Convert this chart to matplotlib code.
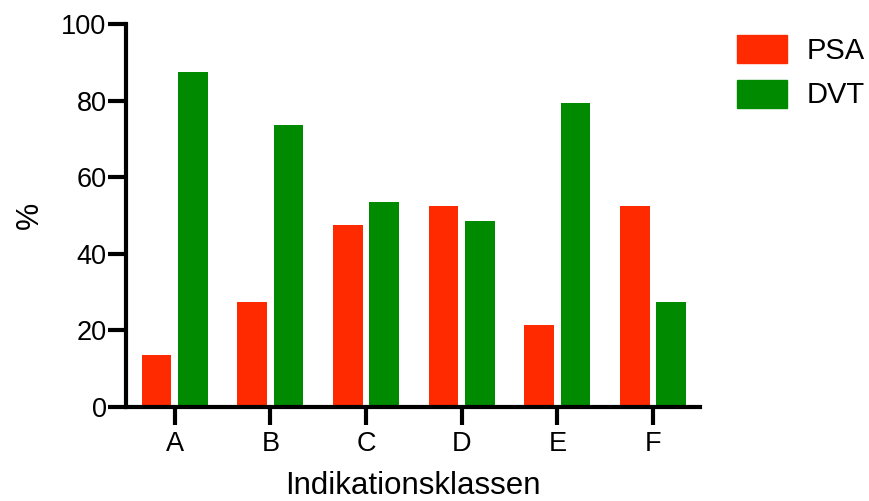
import numpy as np
import matplotlib.pyplot as plt
from matplotlib.patches import Patch

plt.rcParams['font.family'] = ['Liberation Sans', 'DejaVu Sans']

categories = ['A', 'B', 'C', 'D', 'E', 'F']
psa = [13.5, 27.5, 47.5, 52.5, 21.5, 52.5]
dvt = [87.5, 73.5, 53.5, 48.5, 79.5, 27.5]

red = '#ff2a00'
green = '#008a00'

fig = plt.figure(figsize=(8.7, 5.01), dpi=100)
ax = fig.add_axes([126/870, 1-407/501, (700-126)/870, (407-24)/501])

x = np.arange(len(categories))
w = 0.31
ax.bar(x - 0.19, psa, w, color=red, label='PSA')
ax.bar(x + 0.19, dvt, w, color=green, label='DVT')

ax.set_xlim(-0.51, 5.49)
ax.set_ylim(0, 100)
ax.set_yticks([0, 20, 40, 60, 80, 100])
ax.set_xticks(x)
ax.set_xticklabels(categories)
ax.tick_params(labelsize=19.5, width=3, length=13, direction='out')
ax.tick_params(axis='y', pad=1)
ax.tick_params(axis='x', pad=4)
for s in ['top', 'right']:
    ax.spines[s].set_visible(False)
for s in ['left', 'bottom']:
    ax.spines[s].set_linewidth(3)
ax.set_xlabel('Indikationsklassen', fontsize=22.5, labelpad=10)
ax.set_ylabel('%', fontsize=22, labelpad=12)

handles = [Patch(color=red, label='PSA'), Patch(color=green, label='DVT')]
fig.legend(handles=handles, loc='upper left', bbox_to_anchor=(737/870, 1-35/501),
           frameon=False, fontsize=21, handlelength=1.7, handleheight=1.1,
           handletextpad=0.7, labelspacing=0.5, borderpad=0, borderaxespad=0)

fig.savefig('out.png', dpi=100)
